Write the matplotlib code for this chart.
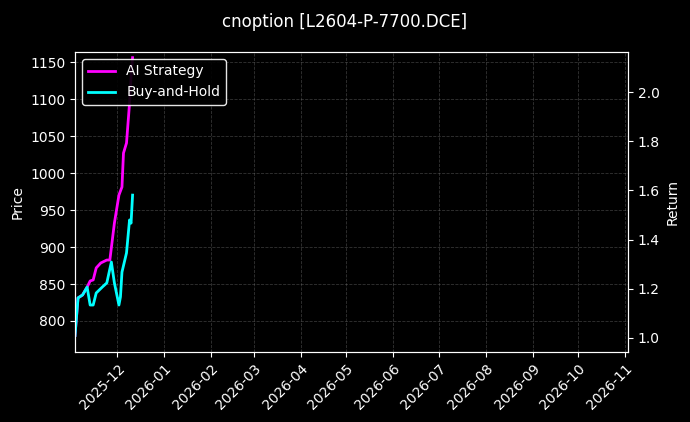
import matplotlib
matplotlib.use("Agg")
import matplotlib.pyplot as plt
import matplotlib.dates as mdates
import numpy as np
import pandas as pd

start = pd.Timestamp("2025-11-03")
bh_days = [0, 2, 5, 8, 10, 12, 14, 18, 21, 24, 26, 29, 30, 31, 34, 36, 37, 38]
bh_ret = [1.01, 1.163, 1.175, 1.207, 1.134, 1.134, 1.183, 1.207, 1.224, 1.309,
          1.224, 1.134, 1.167, 1.268, 1.346, 1.480, 1.467, 1.581]
ai_days = [0, 2, 5, 8, 10, 12, 14, 17, 21, 23, 26, 29, 31, 32, 34, 36, 37, 38]
ai_ret = [1.01, 1.163, 1.175, 1.207, 1.232, 1.236, 1.285, 1.305, 1.317, 1.317,
          1.467, 1.581, 1.614, 1.752, 1.793, 1.955, 2.061, 2.14]

bh_x = [start + pd.Timedelta(days=d) for d in bh_days]
ai_x = [start + pd.Timedelta(days=d) for d in ai_days]

plt.style.use("dark_background")
fig = plt.figure(figsize=(6.9, 4.22), dpi=100)
ax = fig.add_axes([75/690, 1-352/422, (628-75)/690, 300/422])
ax2 = ax.twinx()
ax.set_ylim(758, 1164)
ax.set_ylabel("Price")
ax.set_xlim(pd.Timestamp("2025-11-03"), pd.Timestamp("2026-11-03"))
ax.grid(True, linestyle="--", color="gray", alpha=0.4, linewidth=0.6)

l1, = ax2.plot(ai_x, ai_ret, color="#ff00ff", lw=2, label="AI Strategy")
l2, = ax2.plot(bh_x, bh_ret, color="#00ffff", lw=2, label="Buy-and-Hold")
ax2.set_ylim(0.943, 2.163)
ax2.set_ylabel("Return")

ax.xaxis.set_major_locator(mdates.MonthLocator())
ax.xaxis.set_major_formatter(mdates.DateFormatter("%Y-%m"))
plt.setp(ax.get_xticklabels(), rotation=45, ha="right", rotation_mode="anchor")
ax2.legend(handles=[l1, l2], loc="upper left", facecolor="black", edgecolor="white", framealpha=0.9)
fig.suptitle("cnoption [L2604-P-7700.DCE]", y=0.97)
fig.savefig("out.png", dpi=100, facecolor="black")
